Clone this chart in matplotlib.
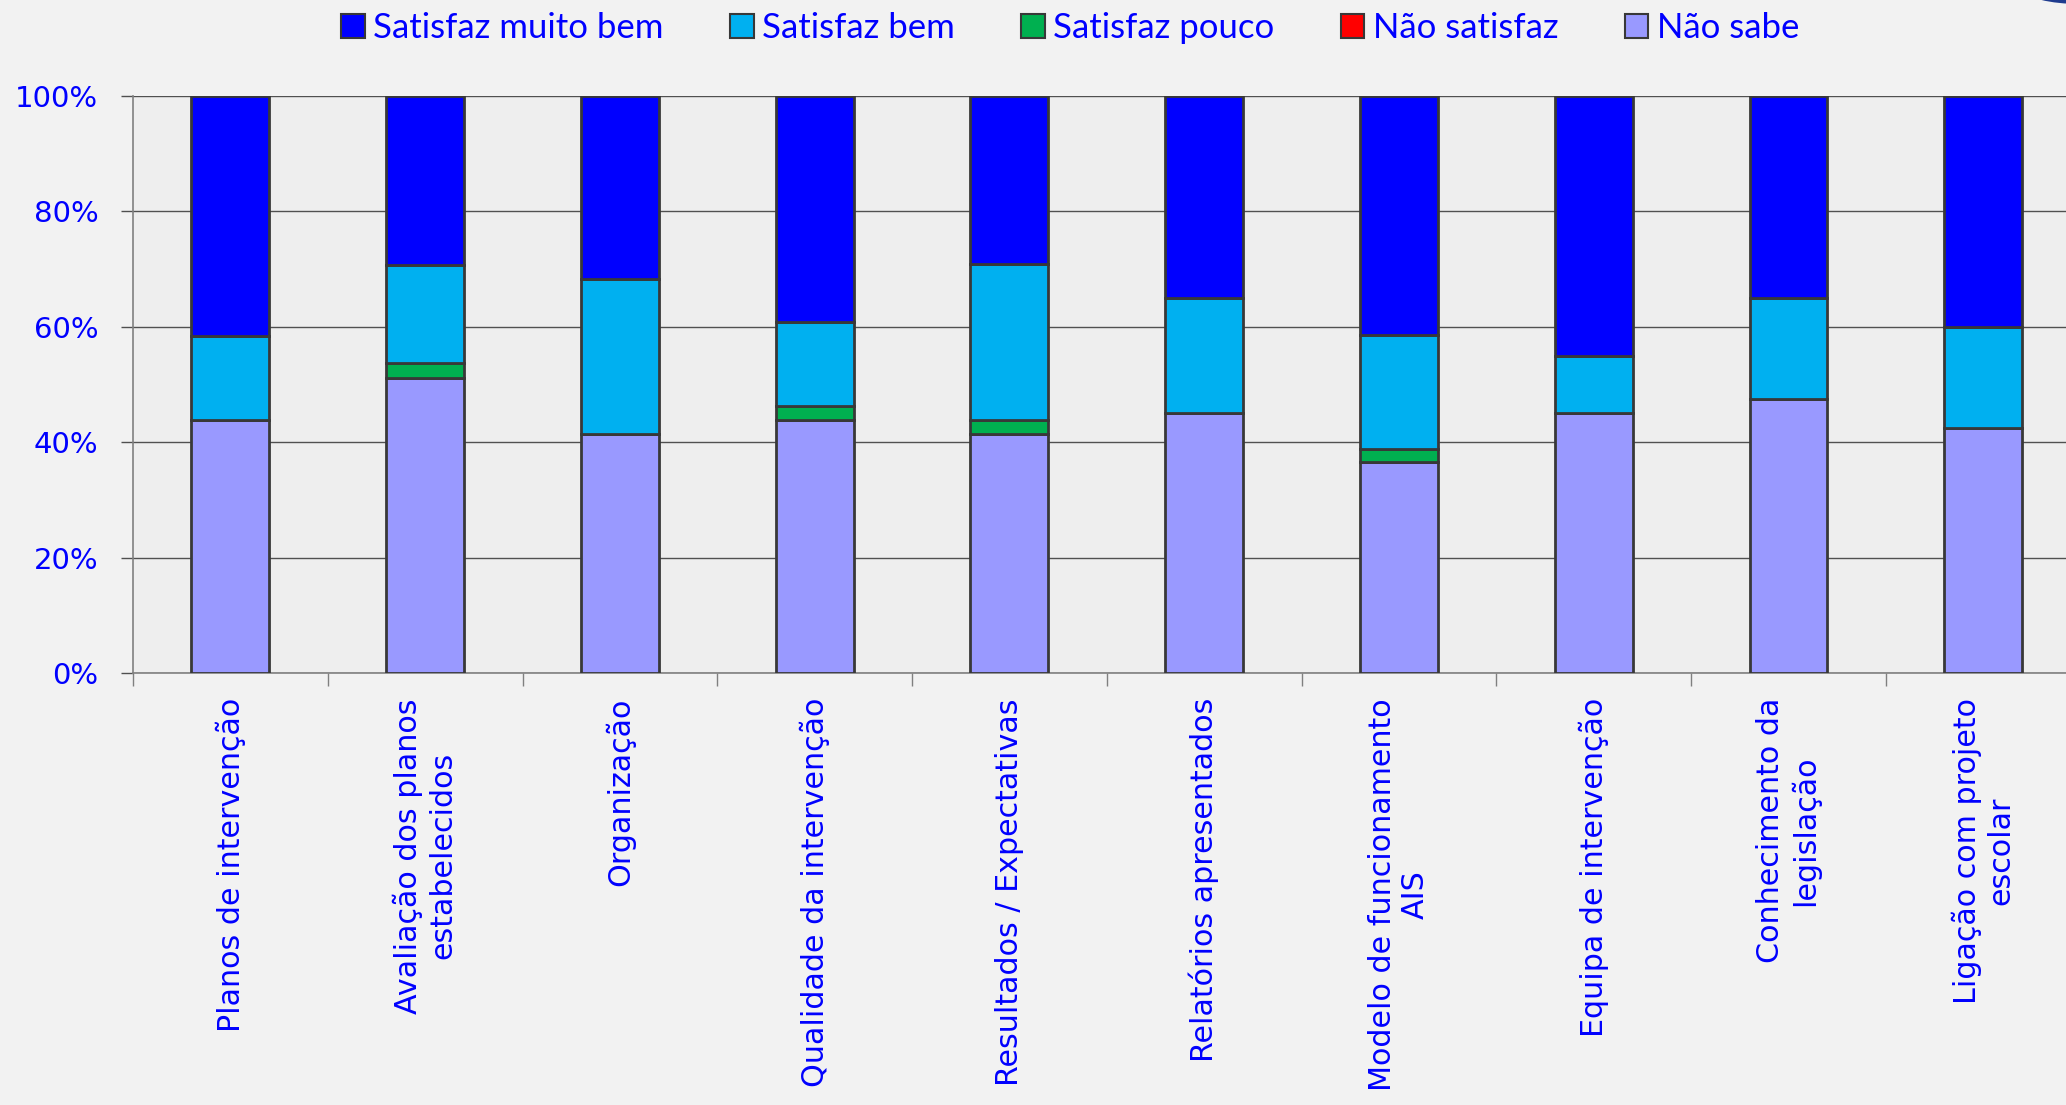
import matplotlib.pyplot as plt
import numpy as np
from matplotlib.patches import Patch, Ellipse

categories = [
    "Planos de intervenção",
    "Avaliação dos planos\nestabelecidos",
    "Organização",
    "Qualidade da intervenção",
    "Resultados / Expectativas",
    "Relatórios apresentados",
    "Modelo de funcionamento\nAIS",
    "Equipa de intervenção",
    "Conhecimento da\nlegislação",
    "Ligação com projeto\nescolar",
]

# percentages, bottom of the stack first
nao_sabe = [43.8, 51.1, 41.4, 43.8, 41.4, 45.0, 36.5, 45.0, 47.5, 42.4]
nao_satisfaz = [0, 0, 0, 0, 0, 0, 0, 0, 0, 0]
satisfaz_pouco = [0, 2.6, 0, 2.5, 2.5, 0, 2.4, 0, 0, 0]
satisfaz_bem = [14.6, 17.0, 26.9, 14.6, 26.9, 20.0, 19.7, 10.0, 17.5, 17.6]
satisfaz_muito_bem = [41.6, 29.3, 31.7, 39.1, 29.2, 35.0, 41.4, 45.0, 35.0, 40.0]

series = [
    ("Não sabe", nao_sabe, "#9999FF"),
    ("Não satisfaz", nao_satisfaz, "#FF0000"),
    ("Satisfaz pouco", satisfaz_pouco, "#00B050"),
    ("Satisfaz bem", satisfaz_bem, "#00B0F0"),
    ("Satisfaz muito bem", satisfaz_muito_bem, "#0000FF"),
]
legend_order = ["Satisfaz muito bem", "Satisfaz bem", "Satisfaz pouco",
                "Não satisfaz", "Não sabe"]

txtcol = "#0000FF"
edgecol = "#383838"

fig = plt.figure(figsize=(20.66, 11.05), dpi=100, facecolor="#F2F2F2")
ax = fig.add_axes([133/2066, 1 - 673/1105, 1 - 133/2066, (673 - 96)/1105])
ax.set_facecolor("#EEEEEE")

x = np.arange(len(categories))
bottom = np.zeros(len(categories))
for name, vals, col in series:
    vals = np.array(vals, dtype=float)
    ax.bar(x, vals, 0.40, bottom=bottom, color=col, edgecolor=edgecol,
           linewidth=2.0, zorder=3)
    bottom += vals

ax.set_yticks([0, 20, 40, 60, 80, 100])
ax.set_yticklabels(["0%", "20%", "40%", "60%", "80%", "100%"])
ax.yaxis.grid(True, color="#505050", linewidth=1.0, zorder=0)
ax.set_axisbelow(True)

ax.set_xticks(x)
ax.set_xticklabels(categories, rotation=90, va="top", ha="center",
                   multialignment="center")
ax.set_xticks(np.arange(-0.5, 10, 1.0), minor=True)
ax.tick_params(axis="x", which="major", length=0, pad=18,
               labelsize=21.7, labelcolor=txtcol)
ax.tick_params(axis="x", which="minor", length=9, width=1.0, color="#808080")
ax.tick_params(axis="y", length=9, width=1.0, color="#505050", pad=16,
               labelsize=21, labelcolor=txtcol)
ax.set_ylim(0, 100)
ax.set_xlim(-0.5, 9.425)

for s in ["top", "right"]:
    ax.spines[s].set_visible(False)
ax.spines["left"].set_color("#808080")
ax.spines["bottom"].set_color("#808080")
ax.spines["left"].set_linewidth(1.2)
ax.spines["bottom"].set_linewidth(1.2)

colors = {n: c for n, _, c in series}
handles = [Patch(facecolor=colors[n], edgecolor=edgecol, linewidth=1.5, label=n)
           for n in legend_order]
fig.legend(handles=handles, loc="center", bbox_to_anchor=(0.518, 0.9746),
           ncol=5, frameon=False, prop={"family": "Lato", "size": 25},
           labelcolor=txtcol, handlelength=0.68, handleheight=0.68,
           handletextpad=0.25, columnspacing=1.9)

# logo fragment at the top right corner
fig.patches.append(Ellipse((2080, 1105 + 10), 110, 28, transform=None,
                           facecolor="#1F3C8F", edgecolor="none"))

fig.savefig("out.png", dpi=100, facecolor=fig.get_facecolor())
